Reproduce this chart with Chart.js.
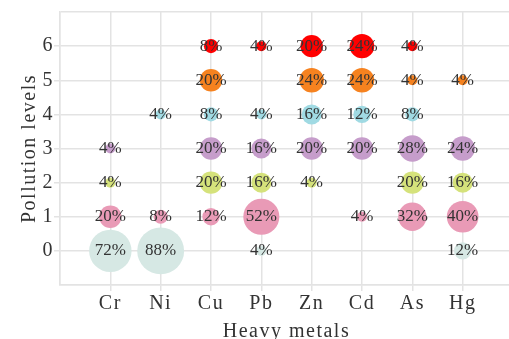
<!DOCTYPE html>
<html>
<head>
<meta charset="utf-8">
<script src="https://cdn.jsdelivr.net/npm/chart.js@4/dist/chart.umd.min.js"></script>
<style>
  html, body { margin: 0; padding: 0; background: #ffffff; overflow: hidden; }
  #wrap { width: 509px; height: 339px; overflow: hidden; }
  canvas { display: block; }
</style>
</head>
<body>
<div id="wrap"><canvas id="chart" width="514" height="339"></canvas></div>
<script>
// Heavy metals on the x axis, pollution levels 0-6 on the y axis
const metals = ['Cr', 'Ni', 'Cu', 'Pb', 'Zn', 'Cd', 'As', 'Hg'];
const levels = [0, 1, 2, 3, 4, 5, 6];

// Share of samples (%) at each pollution level 0..6 (null = none)
const Cr = [72, 20, 4, 4, null, null, null];
const Ni = [88, 8, null, null, 4, null, null];
const Cu = [null, 12, 20, 20, 8, 20, 8];
const Pb = [4, 52, 16, 16, 4, null, 4];
const Zn = [null, null, 4, 20, 16, 24, 20];
const Cd = [null, 4, null, 20, 12, 24, 24];
const As = [null, 32, 20, 28, 8, 4, 4];
const Hg = [12, 40, 16, 24, null, 4, null];

const shares = [Cr, Ni, Cu, Pb, Zn, Cd, As, Hg];

// One colour per pollution level
const levelColors = ['#d6e8e4', '#e99ab6', '#d5e27b', '#c69dcb', '#a0dae3', '#f6821f', '#ff0000'];

const GRID = '#e3e3e3';
const TEXT = '#333333';
const SERIF = "'Liberation Serif', 'Times New Roman', serif";

// Bubbles may overlap the plot edge; keep the layout from reserving room for them
Chart.BubbleController.prototype.getMaxOverflow = () => 0;

// One bubble dataset per level; bubble area grows with the share
const datasets = levels.map((lv, li) => ({
  label: 'Level ' + lv,
  data: metals.map((m, mi) => shares[mi][li] == null ? null : { x: mi + 1, y: lv, p: shares[mi][li] })
              .filter(d => d !== null),
  backgroundColor: levelColors[li],
  borderWidth: 0,
  radius: ctx => 2.5 * Math.sqrt(ctx.raw ? ctx.raw.p : 0)
}));

// Slightly spaced lettering for axis text
const spacing = {
  id: 'spacing',
  beforeUpdate(chart) { chart.ctx.letterSpacing = '1.5px'; },
  beforeDraw(chart) { chart.ctx.letterSpacing = '1.5px'; }
};

// Percentage written at the centre of every bubble
const shareLabels = {
  id: 'shareLabels',
  afterDatasetsDraw(chart) {
    const ctx = chart.ctx;
    ctx.save();
    ctx.letterSpacing = '0px';
    ctx.font = '17px ' + SERIF;
    ctx.fillStyle = TEXT;
    ctx.textAlign = 'center';
    ctx.textBaseline = 'middle';
    chart.data.datasets.forEach((ds, i) => {
      chart.getDatasetMeta(i).data.forEach((el, j) => {
        ctx.fillText(ds.data[j].p + '%', el.x, el.y);
      });
    });
    ctx.restore();
  }
};

const edgeTick = (lo, hi) => ctx => (ctx.tick && ctx.tick.value >= lo && ctx.tick.value <= hi) ? GRID : 'rgba(0,0,0,0)';

new Chart(document.getElementById('chart'), {
  type: 'bubble',
  data: { datasets },
  plugins: [spacing, shareLabels],
  options: {
    responsive: false,
    animation: false,
    layout: { padding: { top: 12, left: 0, right: 0, bottom: 0 } },
    plugins: { legend: { display: false }, tooltip: { enabled: false } },
    scales: {
      x: {
        type: 'linear',
        min: 0, max: 9,
        afterFit(scale) { scale.height = 54; },
        grid: { color: GRID, lineWidth: 1.5, tickLength: 6, tickColor: edgeTick(1, 8) },
        border: { color: GRID, width: 1.5 },
        ticks: {
          stepSize: 1, autoSkip: false, maxRotation: 0, padding: 1,
          color: TEXT, font: { family: SERIF, size: 20 },
          callback: v => metals[v - 1] || ''
        },
        title: {
          display: true, text: 'Heavy metals', color: TEXT,
          font: { family: SERIF, size: 20, lineHeight: 1 },
          padding: { top: 0, bottom: -3 }
        }
      },
      y: {
        type: 'linear',
        min: -1, max: 7,
        afterFit(scale) { scale.width = 60; },
        grid: { color: GRID, lineWidth: 1.5, tickLength: 6, tickColor: edgeTick(0, 6) },
        border: { color: GRID, width: 1.5 },
        ticks: {
          stepSize: 1, padding: 0,
          color: TEXT, font: { family: SERIF, size: 20 },
          callback: v => (v >= 0 && v <= 6) ? String(v) : ''
        },
        title: {
          display: true, text: 'Pollution levels', color: TEXT,
          font: { family: SERIF, size: 20, lineHeight: 1 },
          padding: { top: 20, bottom: 0 }
        }
      }
    }
  }
});
</script>
</body>
</html>
